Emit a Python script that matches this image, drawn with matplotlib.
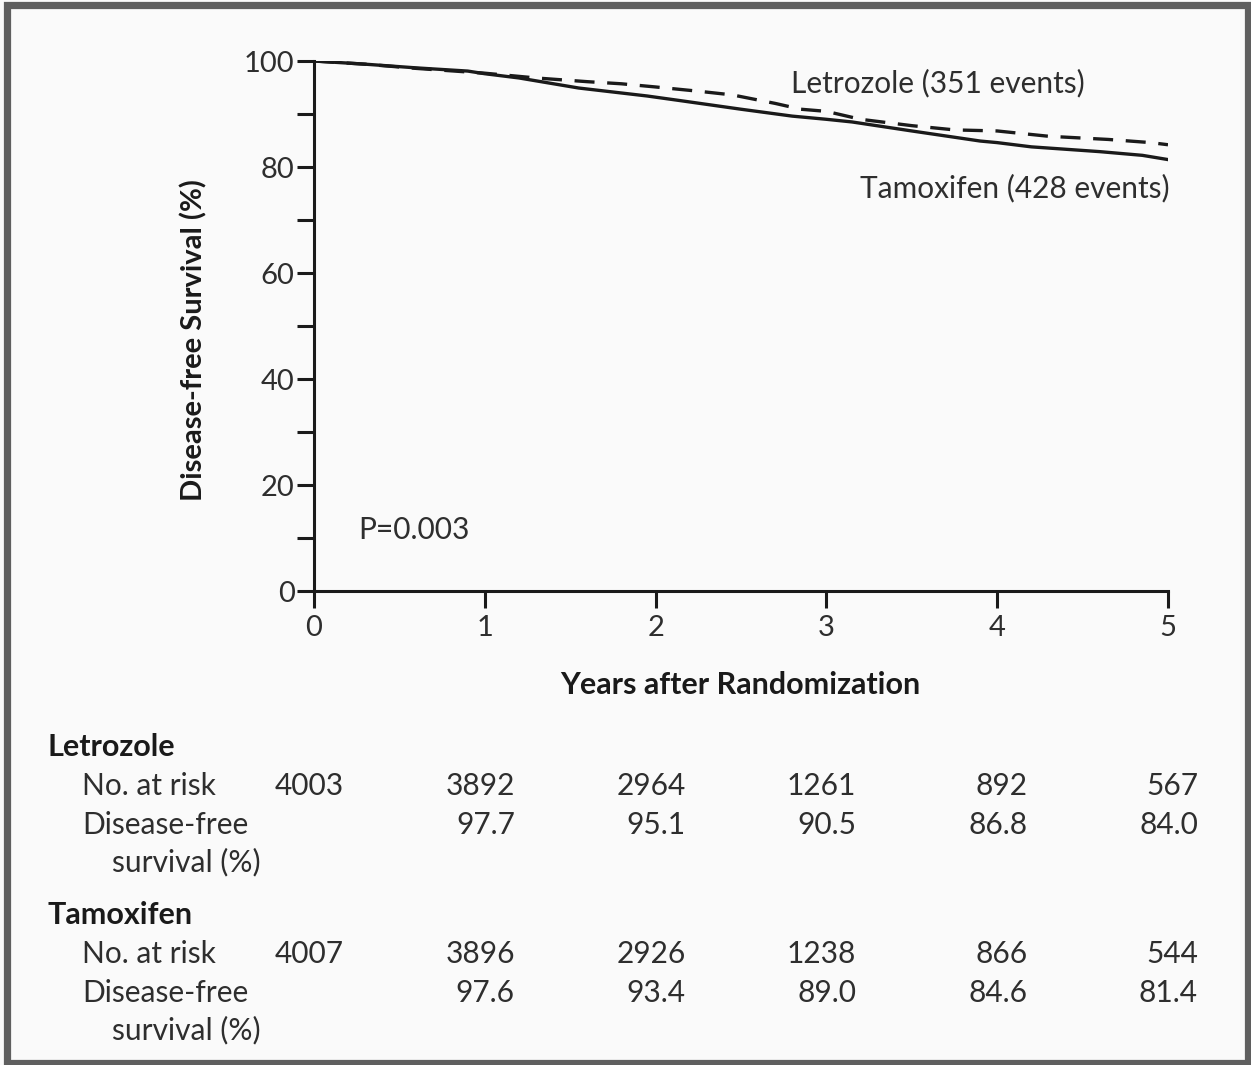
import matplotlib
matplotlib.use("Agg")
import matplotlib.pyplot as plt
import matplotlib.transforms as mtransforms
from matplotlib.patches import Rectangle

plt.rcParams['font.family'] = ['Lato', 'DejaVu Sans']

# Disease-free survival curves (years, %)
letrozole_t = [0.0, 0.3, 0.6, 1.0, 1.3, 1.6, 1.8, 2.0, 2.25, 2.45, 2.7, 2.85, 3.0, 3.2, 3.5, 3.75, 4.0, 4.3, 4.65, 4.9, 5.0]
letrozole_s = [100.0, 99.4, 98.6, 97.7, 96.8, 96.1, 95.7, 95.1, 94.3, 93.6, 92.0, 90.9, 90.5, 89.0, 87.8, 87.0, 86.8, 85.8, 85.2, 84.6, 84.2]
tamoxifen_t = [0.0, 0.3, 0.6, 0.9, 1.0, 1.2, 1.55, 1.95, 2.15, 2.5, 2.8, 3.0, 3.15, 3.5, 3.9, 4.0, 4.2, 4.6, 4.85, 5.0]
tamoxifen_s = [100.0, 99.4, 98.7, 98.1, 97.6, 96.8, 94.9, 93.4, 92.5, 90.9, 89.6, 89.0, 88.5, 86.8, 84.9, 84.6, 83.8, 82.9, 82.2, 81.4]

years = [0, 1, 2, 3, 4, 5]
y_ticks = [0, 20, 40, 60, 80, 100]

# Numbers at risk and survival table
letrozole_at_risk = [4003, 3892, 2964, 1261, 892, 567]
letrozole_dfs = [None, 97.7, 95.1, 90.5, 86.8, 84.0]
tamoxifen_at_risk = [4007, 3896, 2926, 1238, 866, 544]
tamoxifen_dfs = [None, 97.6, 93.4, 89.0, 84.6, 81.4]

W, H = 1251, 1065
FS = 21.5
ink = '#1a1a1a'
txt = '#2e2e2e'

fig = plt.figure(figsize=(W / 100, H / 100), dpi=100, facecolor='#fafafa')
ax = fig.add_axes([314 / W, 1 - 591 / H, (1168 - 314) / W, (591 - 61) / H])
ax.set_facecolor('#fafafa')

ax.plot(tamoxifen_t, tamoxifen_s, color=ink, lw=2.4, solid_joinstyle='round')
ax.plot(letrozole_t, letrozole_s, color=ink, lw=2.4, dashes=(6, 3.8))

ax.set_xlim(0, 5)
ax.set_ylim(0, 100)
for side in ('top', 'right'):
    ax.spines[side].set_visible(False)
for side in ('left', 'bottom'):
    ax.spines[side].set_linewidth(2.2)
    ax.spines[side].set_color(ink)
ax.set_xticks(years)
ax.set_yticks(y_ticks)
ax.set_yticks([10, 30, 50, 70, 90], minor=True)
ax.tick_params(axis='both', which='both', direction='out', length=12, width=2.2,
               color=ink, labelsize=21, labelcolor=txt, pad=2)
ax.tick_params(axis='x', which='major', pad=5)

def fy(py):
    return 1 - py / H

fig.text(194 / W, fy(340), 'Disease-free Survival (%)', rotation=90, ha='center', va='center',
         fontsize=21, fontweight='bold', color=ink)
fig.text(740 / W, fy(685), 'Years after Randomization', ha='center', va='center',
         fontsize=22, fontweight='bold', color=ink)

fig.text(1085 / W, fy(83), 'Letrozole (351 events)', ha='right', va='center', fontsize=FS, color=txt)
fig.text(1170 / W, fy(188), 'Tamoxifen (428 events)', ha='right', va='center', fontsize=FS, color=txt)
ax.text(0.26, 11.5, 'P=0.003', ha='left', va='center', fontsize=FS, color=txt)

# Table below the plot: columns aligned to the year ticks
col = mtransforms.blended_transform_factory(ax.transData, fig.transFigure)
col = col + mtransforms.ScaledTranslation(30 / 100, 0, fig.dpi_scale_trans)

def table_block(name, at_risk, dfs, y0):
    fig.text(48 / W, fy(y0), name, ha='left', va='center', fontsize=22,
             fontweight='bold', color=ink)
    fig.text(82 / W, fy(y0 + 39), 'No. at risk', ha='left', va='center', fontsize=FS, color=txt)
    fig.text(82 / W, fy(y0 + 78), 'Disease-free', ha='left', va='center', fontsize=FS, color=txt)
    fig.text(112 / W, fy(y0 + 115), 'survival (%)', ha='left', va='center', fontsize=FS, color=txt)
    for yr, n, s in zip(years, at_risk, dfs):
        fig.text(yr, fy(y0 + 39), f'{n}', transform=col, ha='right', va='center',
                 fontsize=FS, color=txt)
        if s is not None:
            fig.text(yr, fy(y0 + 78), f'{s:.1f}', transform=col, ha='right', va='center',
                     fontsize=FS, color=txt)

table_block('Letrozole', letrozole_at_risk, letrozole_dfs, 747)
table_block('Tamoxifen', tamoxifen_at_risk, tamoxifen_dfs, 915)

# Gray frame around the figure
fig.patches.append(Rectangle((6.5 / W, 2.5 / H), (1247.5 - 6.5) / W, (1060 - 2.5) / H,
                             transform=fig.transFigure, fill=False,
                             edgecolor='#5f5f5f', linewidth=5.2, zorder=10))

fig.savefig('out.png', dpi=100, facecolor=fig.get_facecolor())
